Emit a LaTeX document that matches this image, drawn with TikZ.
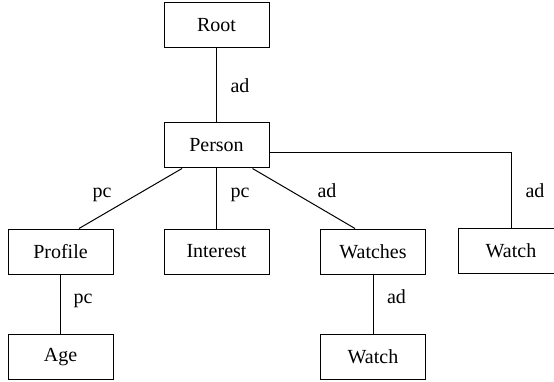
\documentclass[tikz,border=0pt]{standalone}
\usepackage{fontspec}
\setmainfont{Liberation Serif}
\newfontfamily\treefont{Liberation Serif}
\usetikzlibrary{calc}

\begin{document}
\begin{tikzpicture}[x=1pt,y=-1pt,line width=1pt,
  box/.style={draw,minimum width=105pt,minimum height=45pt,font=\treefont\fontsize{20}{24}\selectfont},
  lbl/.style={anchor=base,font=\treefont\fontsize{20}{24}\selectfont}]
\useasboundingbox (0,0) rectangle (554,382);
\path[clip] (0,0) rectangle (554,382);
\node[box] (root) at (216.5,25.5) {Root};
\node[box] (person) at (216.5,145.5) {Person};
\node[box] (profile) at (60.5,251.5) {Profile};
\node[box] (interest) at (216.5,251.5) {Interest};
\node[box] (watches) at (373,251.5) {Watches};
\node[box] (watch) at (511,250.5) {Watch};
\node[box] (age) at (60.5,357) {Age};
\node[box] (subwatch) at (373,357) {Watch};
\draw (root) -- (person);
\draw ([xshift=-34.5pt]person.south) -- ([xshift=18.5pt]profile.north);
\draw (person) -- (interest);
\draw ([xshift=36pt]person.south) -- ([xshift=-18pt]watches.north);
\draw ([yshift=-7.5pt]person.east) -| (watch);
\draw (profile) -- (age);
\draw (watches) -- (subwatch);
\node[lbl] (adroot) at (240,93) {ad};
\node[lbl] (pcprofile) at (102,198) {pc};
\node[lbl] (pcinterest) at (240,198) {pc};
\node[lbl] (adwatches) at (327,198) {ad};
\node[lbl] (adwatch) at (535,198) {ad};
\node[lbl] (pcage) at (83,303) {pc};
\node[lbl] (adsubwatch) at (396.5,303) {ad};
\end{tikzpicture}
\end{document}
